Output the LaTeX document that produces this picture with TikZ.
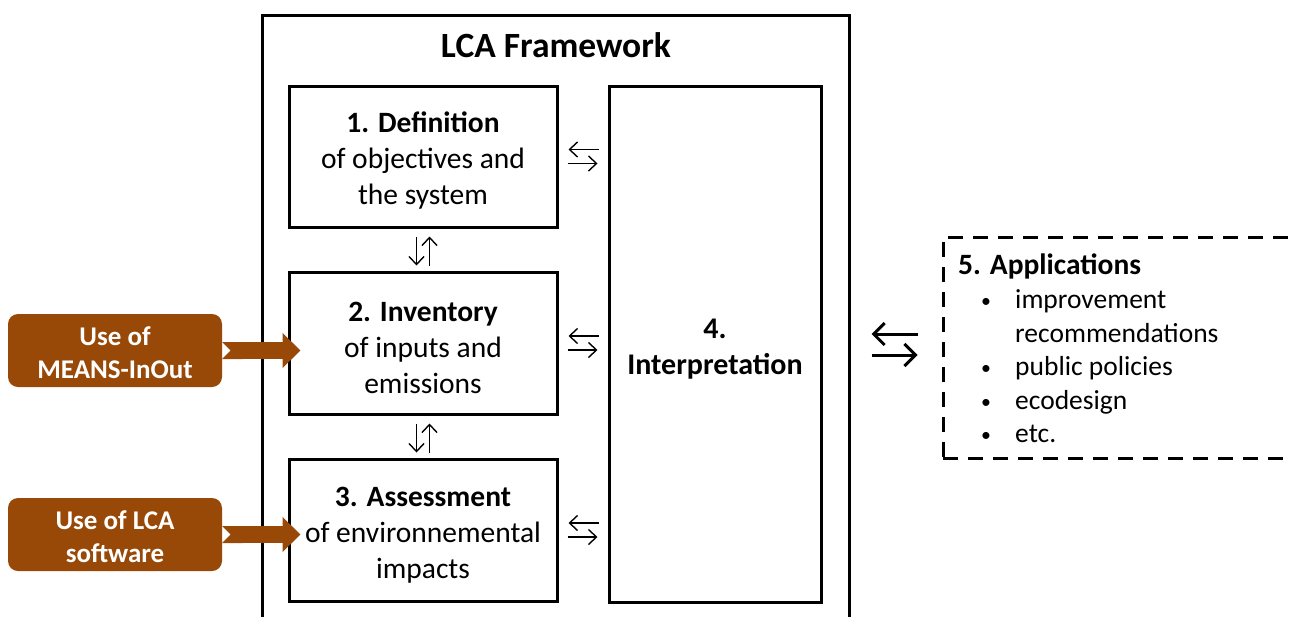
\documentclass[tikz,border=0pt]{standalone}
\usepackage{fontspec}
\usepackage{graphicx}
\setmainfont{Carlito}
\usetikzlibrary{arrows.meta,calc,positioning}
\definecolor{meansbrown}{HTML}{984807}

\newcommand{\appbullet}{\makebox[33pt][l]{\hspace*{-1pt}\raisebox{1pt}{\scalebox{0.72}{•}}}}
\newcommand{\firstline}[1]{\rule{0pt}{#1}}

\begin{document}
\begin{tikzpicture}[
    x=1pt, y=-1pt,
    frame/.style      = {draw, line width=3pt, inner sep=0pt},
    stage/.style      = {draw, line width=3pt, inner sep=0pt, align=center,
                         minimum width=268pt, font=\fontsize{29.5}{36}\selectfont},
    tool/.style       = {fill=meansbrown, rounded corners=10pt, inner sep=0pt, align=center,
                         minimum width=214pt, minimum height=73pt, text=white,
                         font=\bfseries\fontsize{27}{33}\selectfont},
    feed/.style       = {meansbrown, line width=17pt,
                         {Triangle Cap[reversed]}-{Triangle[width=34pt,length=18pt]}},
    xchg/.style       = {line width=1.4pt, -{Straight Barb[length=8pt,width=15pt]}},
    xchg-big/.style   = {line width=3pt, -{Straight Barb[length=11pt,width=22pt]}},
    appbox/.style     = {draw, line width=3pt, dash pattern=on 15pt off 10pt, inner sep=0pt}
  ]
\clip (0,0) rectangle (1293,616);

% =========================================================
% LCA framework with its four stages
% =========================================================
\node[frame, minimum width=587pt, minimum height=625pt] (lca) at (555.5,327.5) {};
\node[font=\bfseries\fontsize{35.5}{40}\selectfont] (lcatitle) at (556,45) {LCA Framework};

\node[stage, minimum height=141pt] (def) at (423,156.5)
  {\firstline{29pt}\textbf{1. Definition}\\of objectives and\\the system};
\node[stage, minimum height=142pt] (inv) at (423,343)
  {\firstline{29pt}\textbf{2. Inventory}\\of inputs and\\emissions};
\node[stage, minimum height=142pt] (ass) at (423,530)
  {\firstline{29pt}\textbf{3. Assessment}\\of environnemental\\impacts};
\node[stage, minimum width=212pt, minimum height=516pt, font=\bfseries\fontsize{30}{36}\selectfont]
  (interp) at (715,344) {\firstline{29pt}4.\\Interpretation};

% exchanges stage <-> interpretation
\foreach \s in {def,inv,ass} {
  \draw[xchg, shorten <=9pt, shorten >=10pt]
    ([yshift=7pt]interp.west |- \s) -- ([yshift=7pt]\s.east);
  \draw[xchg, shorten <=9pt, shorten >=10pt]
    ([yshift=-7pt]\s.east) -- ([yshift=-7pt]interp.west |- \s);
}

% exchanges between successive stages
\draw[xchg, shorten <=8pt, shorten >=5pt] ([xshift=-6.5pt]def.south) -- ([xshift=-6.5pt]inv.north);
\draw[xchg, shorten <=5pt, shorten >=8pt] ([xshift=6.5pt]inv.north) -- ([xshift=6.5pt]def.south);
\draw[xchg, shorten <=8pt, shorten >=5pt] ([xshift=-6.5pt]inv.south) -- ([xshift=-6.5pt]ass.north);
\draw[xchg, shorten <=5pt, shorten >=8pt] ([xshift=6.5pt]ass.north) -- ([xshift=6.5pt]inv.south);

% =========================================================
% Tools feeding the inventory and the assessment
% =========================================================
\node[tool] (means) at (115,350.5) {\firstline{23pt}Use of\\MEANS-InOut};
\node[tool] (lcasoft) at (115,534.5) {\firstline{23pt}Use of LCA\\software};

\draw[feed] (means.east) -- ([xshift=13pt]inv.west |- means.east);
\draw[feed] (lcasoft.east) -- ([xshift=13pt]ass.west |- lcasoft.east);

% =========================================================
% Applications
% =========================================================
\node[appbox, minimum width=387pt, minimum height=221pt] (apps) at (1136.5,347.5) {};
\node[anchor=north west, inner sep=0pt, align=left, font=\fontsize{27.5}{33.6}\selectfont]
  (applist) at (958,254)
  {{\bfseries\fontsize{29.5}{33.6}\selectfont 5. Applications}\\
   \hspace*{24pt}\appbullet improvement\\
   \hspace*{57pt}recommendations\\
   \hspace*{24pt}\appbullet public policies\\
   \hspace*{24pt}\appbullet ecodesign\\
   \hspace*{24pt}\appbullet etc.};

\draw[xchg-big, shorten <=24pt, shorten >=49pt]
  ([yshift=10pt]apps.west |- interp) -- ([yshift=10pt]interp.east);
\draw[xchg-big, shorten <=49pt, shorten >=24pt]
  ([yshift=-11pt]interp.east) -- ([yshift=-11pt]apps.west |- interp);

\end{tikzpicture}
\end{document}
